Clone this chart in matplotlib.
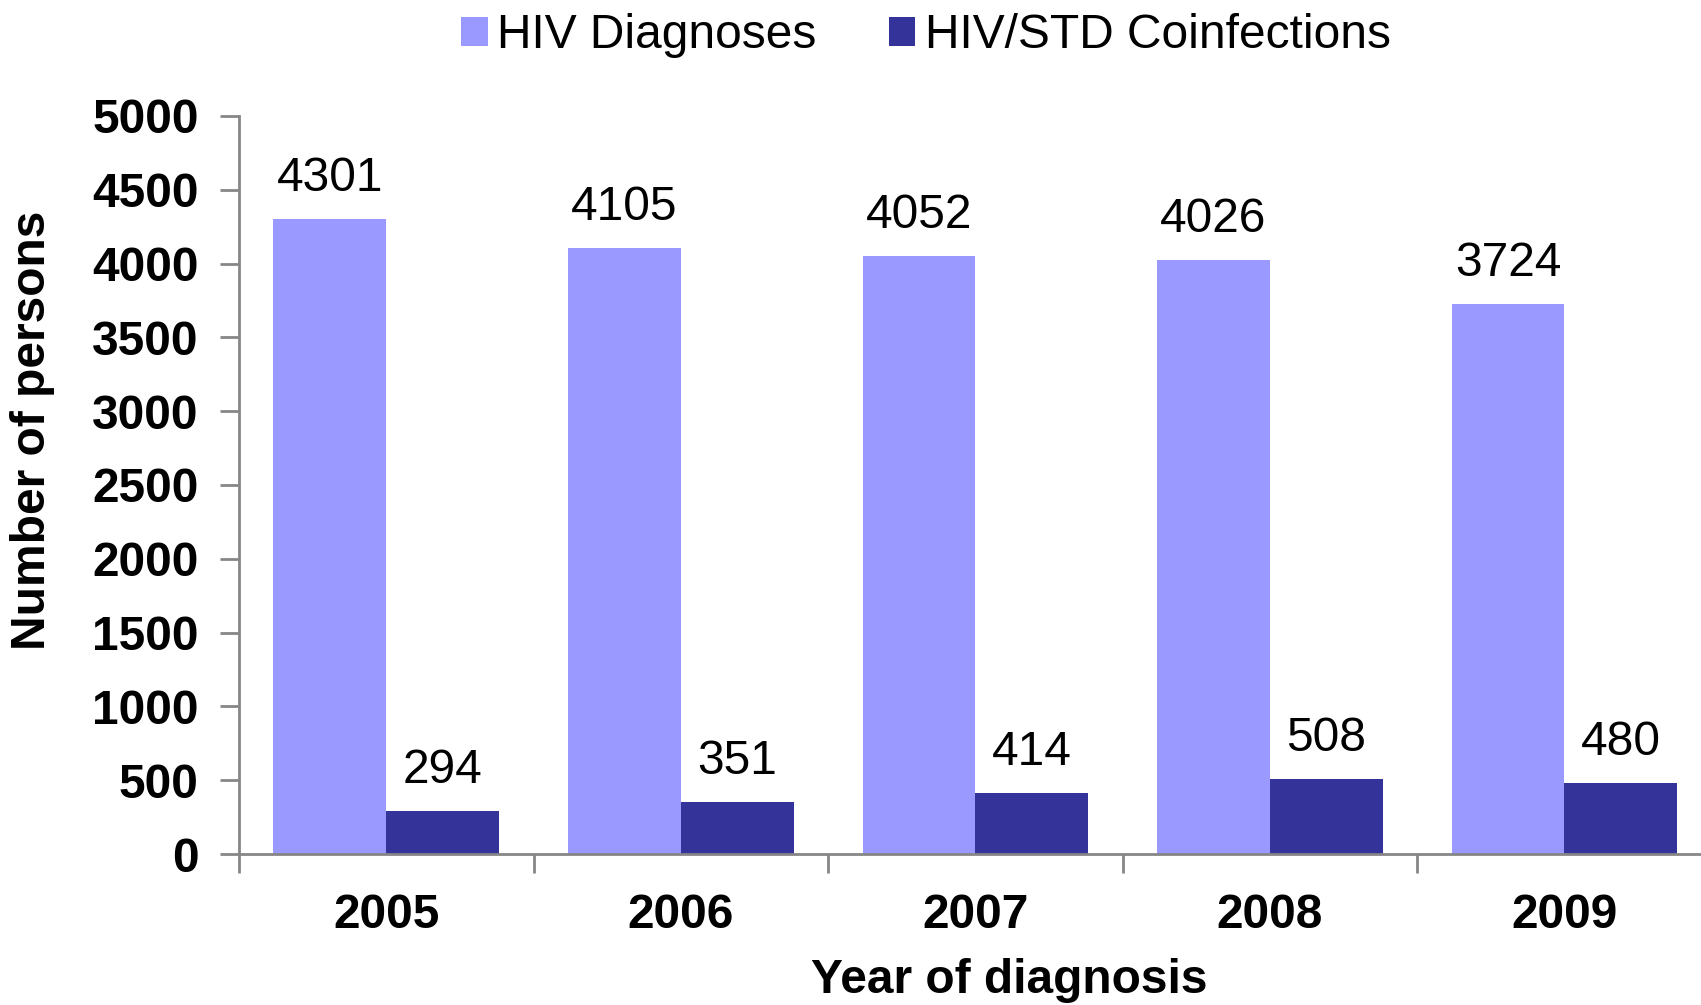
import numpy as np
import matplotlib.pyplot as plt

plt.rcParams['font.family'] = ['Liberation Sans', 'DejaVu Sans']

# data
years = ['2005', '2006', '2007', '2008', '2009']
hiv_diagnoses = [4301, 4105, 4052, 4026, 3724]
coinfections = [294, 351, 414, 508, 480]
y_ticks = [0, 500, 1000, 1500, 2000, 2500, 3000, 3500, 4000, 4500, 5000]

light = '#9999FF'
dark = '#333399'
axis_grey = '#868686'
fs = 34.5

fig = plt.figure(figsize=(17.01, 10.05), dpi=100)
ax = fig.add_axes([239 / 1701, 151 / 1005, 1462 / 1701, 738 / 1005])

x = np.arange(len(years))
w = 0.383
b1 = ax.bar(x - w / 2, hiv_diagnoses, w, color=light, label='HIV Diagnoses')
b2 = ax.bar(x + w / 2, coinfections, w, color=dark, label='HIV/STD Coinfections')

ax.bar_label(b1, padding=13, fontsize=fs)
ax.bar_label(b2, padding=13, fontsize=fs)

ax.set_yticks(y_ticks)
ax.set_yticklabels([str(t) for t in y_ticks], fontsize=fs, fontweight='bold')
ax.tick_params(axis='y', length=14, width=2, color=axis_grey, pad=15)

# year labels in the middle, tick marks between groups
ax.set_xticks(x)
ax.set_xticklabels(years, fontsize=fs, fontweight='bold')
ax.set_xticks(np.arange(len(years) + 1) - 0.5, minor=True)
ax.tick_params(axis='x', which='major', length=0, pad=28)
ax.tick_params(axis='x', which='minor', length=14, width=2, color=axis_grey)

# limits after the ticks, the last group runs off the right edge
ax.set_ylim(0, 5000)
ax.set_xlim(-0.5, 4.464)

for side in ['top', 'right']:
    ax.spines[side].set_visible(False)
for side in ['left', 'bottom']:
    ax.spines[side].set_color(axis_grey)
    ax.spines[side].set_linewidth(2)

fig.text(33 / 1701, 1 - 430 / 1005, 'Number of persons', rotation=90,
         ha='center', va='center', fontsize=fs, fontweight='bold')
fig.text(1009 / 1701, 1 - 980 / 1005, 'Year of diagnosis',
         ha='center', va='center', fontsize=fs, fontweight='bold')

fig.legend(loc='center', bbox_to_anchor=(926 / 1701, 1 - 36 / 1005), ncol=2,
           frameon=False, fontsize=fs, handlelength=0.55, handleheight=0.55,
           handletextpad=0.2, columnspacing=1.5)

fig.savefig('out.png', dpi=100)
